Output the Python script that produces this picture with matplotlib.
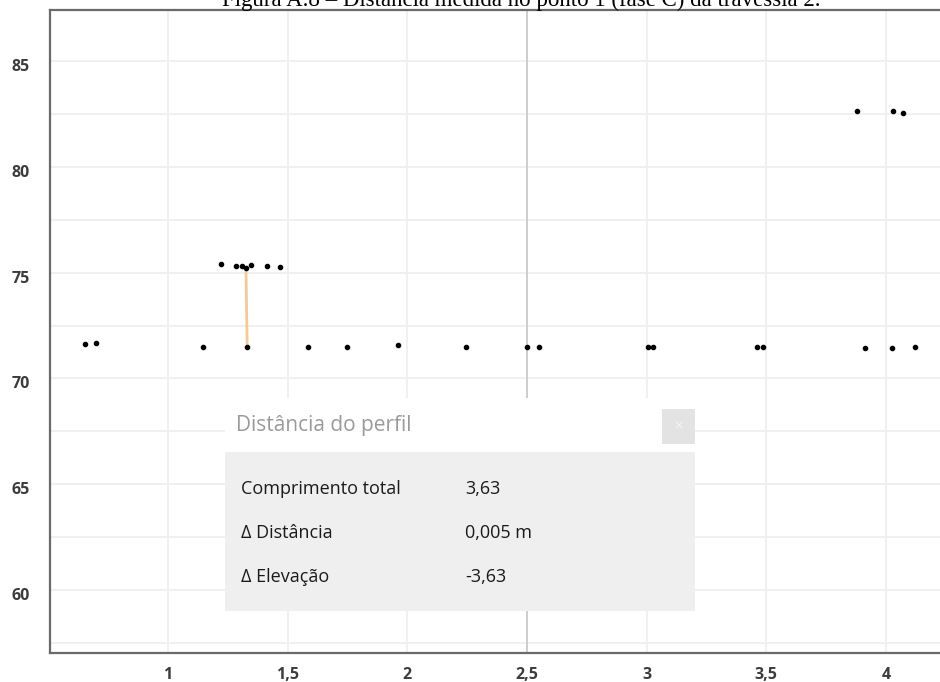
import matplotlib.pyplot as plt
import matplotlib.transforms as mtransforms
from matplotlib.patches import Rectangle
from matplotlib.ticker import MultipleLocator, FuncFormatter

# perfil: distancia ao longo da travessia (m) e elevacao dos pontos
ground_x = [0.653, 0.699, 1.146, 1.330, 1.585, 1.748, 1.961, 2.245, 2.500,
            2.550, 3.006, 3.027, 3.461, 3.486, 3.913, 4.026, 4.122]
ground_y = [71.65, 71.70, 71.51, 71.51, 71.51, 71.51, 71.56, 71.51, 71.51,
            71.51, 71.51, 71.47, 71.51, 71.51, 71.42, 71.42, 71.47]
wire_x = [1.221, 1.284, 1.309, 1.326, 1.347, 1.414, 1.468]
wire_y = [75.39, 75.30, 75.30, 75.20, 75.34, 75.30, 75.25]
high_x = [3.879, 4.030, 4.071]
high_y = [82.62, 82.62, 82.53]

# medicao feita com a ferramenta de distancia
meas_x0 = 1.326
meas_y0 = 75.14
meas_dx = 0.005
meas_dz = -3.63
total_len = 3.63

x_ticks = [1, 1.5, 2, 2.5, 3, 3.5, 4]
y_ticks = [60, 65, 70, 75, 80, 85]

W, H = 940, 682
fig = plt.figure(figsize=(W / 100, H / 100), dpi=100)
ax = fig.add_axes([49.5 / W, 29 / H, (W - 49.5) / W, (653 - 10) / H])

ax.set_xlim(0.505, 4.226)
ax.set_ylim(57.03, 87.41)
ax.set_xticks(x_ticks)
ax.set_yticks(y_ticks)
ax.yaxis.set_minor_locator(MultipleLocator(2.5))
ax.xaxis.set_major_formatter(FuncFormatter(lambda v, p: f"{v:g}".replace(".", ",")))
ax.grid(True, which="both", color="#efefef", linewidth=1.3)
ax.set_axisbelow(True)
ax.tick_params(length=0, which="both", colors="#3c3c3c", labelsize=11.5)
ax.tick_params(axis="y", pad=14)
ax.tick_params(axis="x", pad=10)
for lab in ax.get_xticklabels() + ax.get_yticklabels():
    lab.set_fontfamily("Open Sans")
    lab.set_fontweight("bold")
# rotulos do eixo y ficam um pouco abaixo da linha de grade
shift = mtransforms.ScaledTranslation(0, -4 / 100, fig.dpi_scale_trans)
for lab in ax.get_yticklabels():
    lab.set_transform(lab.get_transform() + shift)

for side in ["left", "bottom", "top"]:
    ax.spines[side].set_color("#6a6a6a")
    ax.spines[side].set_linewidth(1.6)
ax.spines["right"].set_visible(False)

# cursor vertical
ax.axvline(2.5, color="#c8c8c8", linewidth=1.2, zorder=1)

ms = dict(linestyle="none", marker="o", markersize=3, color="black", zorder=3)
ax.plot(ground_x, ground_y, **ms)
ax.plot(wire_x, wire_y, **ms)
ax.plot(high_x, high_y, **ms)

ax.plot([meas_x0, meas_x0 + meas_dx], [meas_y0, meas_y0 + meas_dz],
        color="#f6c994", linewidth=2, zorder=2)

# legenda da figura, cortada no topo
fig.text(521 / W, 1 - 6 / H,
         "Figura A.8 – Distância medida no ponto 1 (fase C) da travessia 2.",
         family="Liberation Serif", fontsize=16.5, ha="center", va="baseline")


# janela "Distância do perfil"
def px_box(x0, y0, x1, y1, color):
    fig.add_artist(Rectangle((x0 / W, 1 - y1 / H), (x1 - x0) / W, (y1 - y0) / H,
                             transform=fig.transFigure, facecolor=color,
                             edgecolor="none", zorder=4))


px_box(225, 398, 695, 452, "white")
px_box(225, 452, 695, 611, "#efefef")
px_box(662, 409, 695, 444, "#e3e3e3")
fig.text(678.5 / W, 1 - 426 / H, "×", color="#f5f5f5", fontsize=9,
         ha="center", va="center", zorder=5)

ui = dict(family="Open Sans", va="center", zorder=5)
fig.text(236 / W, 1 - 425 / H, "Distância do perfil", color="#9a9a9a",
         fontsize=15, **ui)

rows = [
    ("Comprimento total", f"{total_len:.2f}".replace(".", ",")),
    ("Δ Distância", f"{meas_dx:.3f} m".replace(".", ",")),
    ("Δ Elevação", f"{meas_dz:.2f}".replace(".", ",")),
]
for i, (name, val) in enumerate(rows):
    yy = 1 - (489 + 44 * i) / H
    fig.text(241 / W, yy, name, color="#1a1a1a", fontsize=13, **ui)
    fig.text(465 / W, yy, val, color="#1a1a1a", fontsize=13, **ui)

fig.savefig("out.png", dpi=100)
